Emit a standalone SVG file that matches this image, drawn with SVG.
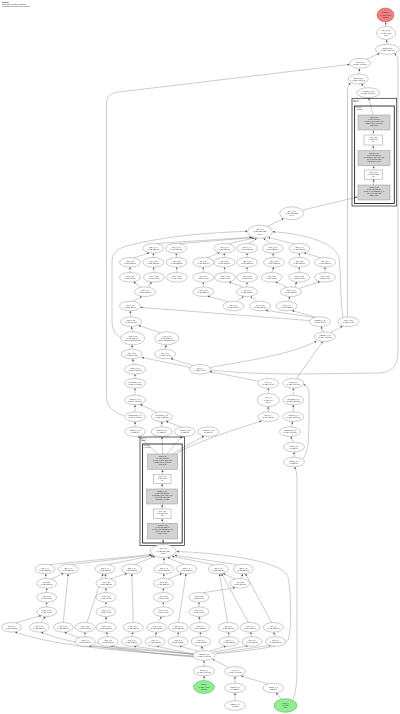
<svg xmlns="http://www.w3.org/2000/svg" width="400" height="714" viewBox="0 0 400 714">
<defs>
<marker id="ah" viewBox="0 0 10 10" refX="10" refY="5" markerWidth="2.2" markerHeight="2.2" orient="auto" markerUnits="userSpaceOnUse"><path d="M0,0 L10,5 L0,10 z" fill="#555"/></marker>
<style>
.node ellipse{fill:#fff;stroke:#8a8a8a;stroke-width:.45}
.node.red ellipse{fill:#f08080;stroke:#b04040}
.node.green ellipse{fill:#90ee90;stroke:#4a9a4a}
text{font-family:"Liberation Sans",Arial,sans-serif;font-size:1.75px;text-anchor:middle;fill:#111}
.gbox{fill:#d3d3d3;stroke:#8a8a8a;stroke-width:.45}
.wbox{fill:#fff;stroke:#8a8a8a;stroke-width:.45}
.gbox+text,.box text{font-size:1.6px}
.clo{fill:none;stroke:#222;stroke-width:.7}
.cli{fill:none;stroke:#222;stroke-width:.9}
.cl{text-anchor:start;font-size:1.5px}
#edges path{fill:none;stroke:#8f8f8f;stroke-width:.45;marker-end:url(#ah)}
.title{text-anchor:start;font-size:2.2px;font-weight:bold}
.sub{text-anchor:start;font-size:1.5px}
.box text{font-size:1.55px}
</style>
</defs>
<rect width="400" height="714" fill="#fff"/>
<g id="title">
<text class="title" x="2" y="3.2">layout</text>
<text class="sub" x="2" y="5.3">Output graph for model: transformer</text>
<text class="sub" x="2" y="7.2">Hierarchical view (rankdir=BT, compound)</text>
</g>

<g id="edges">
<path d="M386,26.5 L385.6,22.3"/>
<path d="M387.2,44.3 L386.3,39.8"/>
<path d="M366,59.4 L379.5,53.6"/>
<path d="M358.6,74 L359.6,68.6"/>
<path d="M366,87.8 L361.2,83.8"/>
<path d="M373,115 L368.8,98"/>
<path d="M373,135 L373.5,130.4"/>
<path d="M373.5,150.7 L373.3,145.4"/>
<path d="M373.5,170 L373.8,166.1"/>
<path d="M373.5,185 L373.5,179.4"/>
<path d="M303,210 L357.6,197"/>
<path d="M267,226.5 L283.6,218.6"/>
<path d="M123.5,415.5 C110,411 106.5,405 106.5,395 L106.5,104 C106.5,96 111,93 119,92 L349.6,64.4"/>
<path d="M211,370 C235,372.5 260,374 300,374 L380,373 C393,372 398,365 398,350 L398,62 C398,57.5 396.5,55 394.3,53.6"/>
<path d="M347.5,316.9 L347.5,90 C347.5,86.5 348.6,84.6 350.6,83.3"/>
<path d="M343,317 C340,300 341,272 339,258 C336,242 300,233 272.6,231.8"/>
<path d="M120.8,337 C114,334 112,328 112,320 L112,262 C112,253 117,249 125,246.5 C160,237 200,233 247.6,231.2"/>
<path d="M156,243.6 L251.5,237.2"/>
<path d="M179,243.6 L252.6,237.7"/>
<path d="M228,243.7 L254.5,238"/>
<path d="M249,243.6 L256.8,238.2"/>
<path d="M270.5,243.6 L263.5,238.2"/>
<path d="M295,244 L268.2,237.5"/>
<path d="M134,257.8 L149.4,252.8"/>
<path d="M153.3,257.5 L153.3,253.2"/>
<path d="M176.6,257.5 L176.1,253.2"/>
<path d="M207,257.8 L219.6,252.8"/>
<path d="M224.3,257.5 L224.3,253.2"/>
<path d="M247,257.5 L247,253.2"/>
<path d="M273.8,257.5 L273,253.2"/>
<path d="M299.3,257.5 L299.3,253.2"/>
<path d="M321,257.8 L304,252.8"/>
<path d="M130,272.5 L130,267.2"/>
<path d="M154,272.5 L153.4,267.2"/>
<path d="M176.7,272.5 L176.7,267.2"/>
<path d="M203.3,272.5 L203.3,267.2"/>
<path d="M225,272.5 L224.4,267.2"/>
<path d="M247,272.5 L247,267.2"/>
<path d="M271.8,272.5 L273.8,267.2"/>
<path d="M299.3,272.5 L299.3,267.2"/>
<path d="M325,272.5 L325,267.2"/>
<path d="M141,287.2 L133.6,281.8"/>
<path d="M148.5,287.2 L151.5,281.9"/>
<path d="M203.3,286.9 L203.3,282.2"/>
<path d="M243,287.2 L229,281.8"/>
<path d="M247,286.9 L247,282.2"/>
<path d="M287,287.2 L275.5,281.8"/>
<path d="M295,287.2 L296.6,281.9"/>
<path d="M299.5,288.5 L320,281.6"/>
<path d="M133,301.3 L142,296.4"/>
<path d="M228,301.5 L207.5,296.2"/>
<path d="M237,301.4 L243.5,296.4"/>
<path d="M257,301.3 L250.5,296.4"/>
<path d="M288,301.2 L290,296.5"/>
<path d="M130.8,316.9 L130.2,310.9"/>
<path d="M314,317.4 L265.5,310.4"/>
<path d="M316,317.2 L292,310.6"/>
<path d="M309.8,320.6 L140.4,307.4"/>
<path d="M323.5,332 L321,326.6"/>
<path d="M331,332.2 L342.5,326.3"/>
<path d="M210,367.5 C240,362 290,355 316.5,341.2"/>
<path d="M132.5,331.8 L131.3,326.6"/>
<path d="M160,332.4 L138.6,325.6"/>
<path d="M131.9,349.2 L132.4,344.9"/>
<path d="M165,349.2 L166.4,344.9"/>
<path d="M134,364.5 L132.6,358.9"/>
<path d="M193,365.5 L170.6,358.5"/>
<path d="M190,367.4 L141.6,357.4"/>
<path d="M135,378.5 L135,374.2"/>
<path d="M135,395.2 L135,388.2"/>
<path d="M135,411.9 L135,404.9"/>
<path d="M157,412.3 L140.2,404.4"/>
<path d="M135,426.9 L135,421.6"/>
<path d="M161.7,426.9 L161.7,421.6"/>
<path d="M181.5,427.1 L166,421.2"/>
<path d="M158,454 L138,436.3"/>
<path d="M162.7,454 L161.9,436.6"/>
<path d="M167,454 L182,436.3"/>
<path d="M172,454 L204,436"/>
<path d="M175.5,454 C200,440 240,428 261.5,421"/>
<path d="M258.5,381.2 L209.6,371.6"/>
<path d="M296.5,378.7 L322.6,341.5"/>
<path d="M268.3,393.5 L268.3,388.2"/>
<path d="M293.3,395.2 L293.3,388.2"/>
<path d="M268.3,411.9 L268.3,406.6"/>
<path d="M293.3,411.9 L293.3,404.9"/>
<path d="M291,426.9 L292.7,421.6"/>
<path d="M293.5,442.2 L290.8,436.6"/>
<path d="M294,457.2 L294,451.9"/>
<path d="M303,459 C308,452 309,440 309,420 L309,395 C309,389 307,386 303.5,384.6"/>
<path d="M293,699.3 C296.5,690 297,680 297,665 L297,480 C297,472 295.6,469 294.6,466.9"/>
<path d="M162.3,474.3 L162.7,469.8"/>
<path d="M162.3,489 L162.2,483.8"/>
<path d="M162.3,509 L162.2,504.5"/>
<path d="M162.3,523.3 L162.2,518.8"/>
<path d="M163.3,544.5 L163,539.5"/>
<path d="M50,564.5 L151,554.6"/>
<path d="M72,564.4 L152,555.2"/>
<path d="M108,564.4 L153.4,555.7"/>
<path d="M135,564.3 L155,556.2"/>
<path d="M164,564.2 L163.8,557.8"/>
<path d="M184,564.3 L167.5,557.5"/>
<path d="M213,564.6 L172,556.2"/>
<path d="M237,564.6 L174.5,555.3"/>
<path d="M46.4,578.5 L45.3,573.9"/>
<path d="M51,579 L63.5,573.4"/>
<path d="M106,578.5 L105.2,573.9"/>
<path d="M110,579 L127,573.6"/>
<path d="M163.4,578.5 L163.9,573.9"/>
<path d="M168,578.8 L182,573.5"/>
<path d="M235,579 L223,573.5"/>
<path d="M241.3,578.5 L242.6,573.9"/>
<path d="M46.7,592.5 L46.7,588.2"/>
<path d="M106,592.5 L106,588.2"/>
<path d="M163.3,592.5 L163.3,588.2"/>
<path d="M203,592.8 L235.4,587.6"/>
<path d="M46.7,606.9 L46.7,602.2"/>
<path d="M106,606.9 L106,602.2"/>
<path d="M163.3,606.9 L163.3,602.2"/>
<path d="M199,606.9 L199,602.2"/>
<path d="M16,622.8 L41.5,615.5"/>
<path d="M40.5,622.5 L45.4,616.6"/>
<path d="M63.2,622.5 L68.2,573.9"/>
<path d="M87,622.6 L103,573.9"/>
<path d="M106,622.5 L106,616.6"/>
<path d="M133.3,622.5 L131.8,573.9"/>
<path d="M157.5,622.5 L161.6,616.6"/>
<path d="M178.5,622.5 L186,573.9"/>
<path d="M200,622.5 L199.2,616.6"/>
<path d="M227.5,622.5 L219.5,573.9"/>
<path d="M248.5,622.6 L221.5,573.7"/>
<path d="M271.5,622.6 L245.5,573.7"/>
<path d="M85,636.7 L85,632.2"/>
<path d="M108,636.7 L106.3,632.2"/>
<path d="M131.5,636.7 L133,632.2"/>
<path d="M155,636.7 L156.5,632.2"/>
<path d="M178,636.7 L178.3,632.2"/>
<path d="M201,636.7 L200.2,632.2"/>
<path d="M229,636.7 L228.4,632.2"/>
<path d="M252,636.7 L250.3,632.2"/>
<path d="M275.5,636.7 L273.6,632.2"/>
<path d="M194,654 L89,646.2"/>
<path d="M195,654.4 L111,646.2"/>
<path d="M196,654.8 L134,646.3"/>
<path d="M197,655 L156.5,646.3"/>
<path d="M199,651.5 L179.5,646.1"/>
<path d="M203.6,650.7 L201.3,646.3"/>
<path d="M210,651 L226,646"/>
<path d="M213,652 L248,645.8"/>
<path d="M215,653.2 L271,645.3"/>
<path d="M193.5,656 C140,652 60,648 15,632.1"/>
<path d="M194,656.5 C150,653 80,648 41,632.1"/>
<path d="M195,657 C155,654 100,648 64.5,632.1"/>
<path d="M216,654 C250,650 280,648 288,640 C292,630 291,590 288,577 C284,561 220,553 176.6,551.5"/>
<path d="M204,666.2 L204,660.4"/>
<path d="M229,667.5 L212.6,659.4"/>
<path d="M204,680.5 L204,675.9"/>
<path d="M235,683.2 L235,676.4"/>
<path d="M268,684 L241,675.9"/>
<path d="M235,700.7 L235,692.9"/>
<path d="M281.5,699.3 L276,692.7"/>
</g>

<g id="R0" class="node red"><ellipse cx="385.5" cy="15" rx="8.5" ry="7"/><text x="385.5" y="13.4">output_0</text><text x="385.5" y="15.6">[1, 128, 4096]</text><text x="385.5" y="17.8">float16</text></g>
<g id="T1" class="node"><ellipse cx="386" cy="33" rx="9.5" ry="6.5"/><text x="386" y="31.4">mul_1_396</text><text x="386" y="33.6">[1, 128, 4096]</text><text x="386" y="35.8">f16 1</text></g>
<g id="T2" class="node"><ellipse cx="387.3" cy="49.3" rx="12" ry="5"/><text x="387.3" y="48.8">add_35_247</text><text x="387.3" y="51">[1, 128, 4096] f16</text></g>
<g id="T3" class="node"><ellipse cx="360" cy="63.3" rx="10.5" ry="5"/><text x="360" y="62.8">view_1_58</text><text x="360" y="65">[1, 128, 4096] f16</text></g>
<g id="T4" class="node"><ellipse cx="358.3" cy="79" rx="10" ry="5"/><text x="358.3" y="78.5">add_35_246</text><text x="358.3" y="80.7">[1, 128, 4096] f16</text></g>
<g id="T5" class="node"><ellipse cx="368.3" cy="92.7" rx="11.5" ry="5"/><text x="368.3" y="92.2">dropout_1_57</text><text x="368.3" y="94.4">[1, 128, 4096] f16</text></g>

<g id="cluster_layer_31">
<rect class="clo" x="352" y="98.3" width="44.7" height="107.7"/>
<text class="cl" x="353.2" y="100.6">layer_31</text>
<text class="cl" x="353.2" y="102.3">(Block)</text>
<rect class="cli" x="354.6" y="106" width="39.7" height="97.5"/>
<text class="cl" x="355.8" y="108.4">self_attn</text>
<text class="cl" x="355.8" y="110.1">(Attention)</text>
<g id="attn_linear_3" class="box"><rect class="gbox" x="358" y="115" width="32" height="15"/><text x="374" y="117.8">linear_3_56</text><text x="374" y="119.8">[1, 128, 4096] f16</text><text x="374" y="121.8">in: view_1_55 [1, 128, 4096]</text><text x="374" y="123.8">weight: [4096, 4096] f16</text><text x="374" y="125.8">bias: None</text></g>
<g id="attn_view_1" class="box"><rect class="wbox" x="364" y="135" width="18.5" height="10"/><text x="373.2" y="137.9">view_1_55</text><text x="373.2" y="139.9">[1, 128, 4096]</text><text x="373.2" y="141.9">f16</text></g>
<g id="attn_matmul_1" class="box"><rect class="gbox" x="358" y="150.7" width="32" height="15"/><text x="374" y="153.5">matmul_1_54</text><text x="374" y="155.5">[1, 32, 128, 128] f16</text><text x="374" y="157.5">in: softmax_0_53, view_0_52</text><text x="374" y="159.5">out: [1, 32, 128, 128]</text><text x="374" y="161.5">transpose_b: False</text></g>
<g id="attn_view_0" class="box"><rect class="wbox" x="364.5" y="170" width="17.8" height="9.2"/><text x="373.4" y="172.6">view_0_52</text><text x="373.4" y="174.6">[1, 32, 128, 128]</text><text x="373.4" y="176.6">f16</text></g>
<g id="attn_matmul_0" class="box"><rect class="gbox" x="358" y="185" width="32" height="15"/><text x="374" y="187.8">matmul_0_50</text><text x="374" y="189.8">[1, 32, 128, 128] f16</text><text x="374" y="191.8">in: add_0_48, transpose_0_49</text><text x="374" y="193.8">out: [1, 32, 128, 128]</text><text x="374" y="195.8">scale: 0.0884</text></g>
</g>

<g id="M1" class="node"><ellipse cx="291.7" cy="213.3" rx="12" ry="6.5"/><text x="291.7" y="211.7">mul_1_48</text><text x="291.7" y="213.9">[1, 32, 128, 128]</text><text x="291.7" y="216.1">f16 1</text></g>
<g id="M2" class="node"><ellipse cx="260" cy="231.7" rx="12.5" ry="6.5"/><text x="260" y="230.1">cat_0_47</text><text x="260" y="232.3">[1, 32, 128, 128]</text><text x="260" y="234.5">dim 1</text></g>

<g id="A1" class="node"><ellipse cx="153.3" cy="248.3" rx="10.5" ry="4.8"/><text x="153.3" y="247.8">add_0_41</text><text x="153.3" y="250">[1, 32, 128] f16</text></g>
<g id="A2" class="node"><ellipse cx="176" cy="248.3" rx="10.5" ry="4.8"/><text x="176" y="247.8">add_0_42</text><text x="176" y="250">[1, 32, 128] f16</text></g>
<g id="A3" class="node"><ellipse cx="224.3" cy="248.3" rx="10.5" ry="4.8"/><text x="224.3" y="247.8">add_0_43</text><text x="224.3" y="250">[1, 32, 128] f16</text></g>
<g id="A4" class="node"><ellipse cx="247" cy="248.3" rx="10.5" ry="4.8"/><text x="247" y="247.8">add_0_44</text><text x="247" y="250">[1, 32, 128] f16</text></g>
<g id="A5" class="node"><ellipse cx="272.7" cy="248.3" rx="10.5" ry="4.8"/><text x="272.7" y="247.8">add_0_45</text><text x="272.7" y="250">[1, 32, 128] f16</text></g>
<g id="A6" class="node"><ellipse cx="299.3" cy="248.3" rx="10.5" ry="4.8"/><text x="299.3" y="247.8">add_0_46</text><text x="299.3" y="250">[1, 32, 128] f16</text></g>

<g id="B1" class="node"><ellipse cx="130" cy="262.3" rx="10.5" ry="4.8"/><text x="130" y="261.8">cat_0_31</text><text x="130" y="264">[1, 32, 128] f16</text></g>
<g id="B2" class="node"><ellipse cx="153.3" cy="262.3" rx="10.5" ry="4.8"/><text x="153.3" y="261.8">mul_0_32</text><text x="153.3" y="264">[1, 32, 128] f16</text></g>
<g id="B3" class="node"><ellipse cx="176.7" cy="262.3" rx="10.5" ry="4.8"/><text x="176.7" y="261.8">mul_0_33</text><text x="176.7" y="264">[1, 32, 128] f16</text></g>
<g id="B4" class="node"><ellipse cx="203.3" cy="262.3" rx="10.5" ry="4.8"/><text x="203.3" y="261.8">cat_0_34</text><text x="203.3" y="264">[1, 32, 128] f16</text></g>
<g id="B5" class="node"><ellipse cx="224.3" cy="262.3" rx="10.5" ry="4.8"/><text x="224.3" y="261.8">mul_0_35</text><text x="224.3" y="264">[1, 32, 128] f16</text></g>
<g id="B6" class="node"><ellipse cx="247" cy="262.3" rx="10.5" ry="4.8"/><text x="247" y="261.8">mul_0_36</text><text x="247" y="264">[1, 32, 128] f16</text></g>
<g id="B7" class="node"><ellipse cx="274" cy="262.3" rx="10.5" ry="4.8"/><text x="274" y="261.8">mul_0_37</text><text x="274" y="264">[1, 32, 128] f16</text></g>
<g id="B8" class="node"><ellipse cx="299.3" cy="262.3" rx="10.5" ry="4.8"/><text x="299.3" y="261.8">cat_0_38</text><text x="299.3" y="264">[1, 32, 128] f16</text></g>
<g id="B9" class="node"><ellipse cx="325" cy="262.3" rx="10.5" ry="4.8"/><text x="325" y="261.8">mul_0_39</text><text x="325" y="264">[1, 32, 128] f16</text></g>

<g id="C1" class="node"><ellipse cx="130" cy="277.3" rx="10.5" ry="4.8"/><text x="130" y="276.8">neg_0_21</text><text x="130" y="279">[1, 32, 64] f16</text></g>
<g id="C2" class="node"><ellipse cx="154" cy="277.3" rx="10.5" ry="4.8"/><text x="154" y="276.8">slice_0_22</text><text x="154" y="279">[1, 32, 64] f16</text></g>
<g id="C3" class="node"><ellipse cx="176.7" cy="277.3" rx="10.5" ry="4.8"/><text x="176.7" y="276.8">slice_0_23</text><text x="176.7" y="279">[1, 32, 64] f16</text></g>
<g id="C4" class="node"><ellipse cx="203.3" cy="277.3" rx="10.5" ry="4.8"/><text x="203.3" y="276.8">neg_0_24</text><text x="203.3" y="279">[1, 32, 64] f16</text></g>
<g id="C5" class="node"><ellipse cx="225" cy="277.3" rx="10.5" ry="4.8"/><text x="225" y="276.8">slice_0_25</text><text x="225" y="279">[1, 32, 64] f16</text></g>
<g id="C6" class="node"><ellipse cx="247" cy="277.3" rx="10.5" ry="4.8"/><text x="247" y="276.8">slice_0_26</text><text x="247" y="279">[1, 32, 64] f16</text></g>
<g id="C7" class="node"><ellipse cx="271.7" cy="277.3" rx="10.5" ry="4.8"/><text x="271.7" y="276.8">neg_0_27</text><text x="271.7" y="279">[1, 32, 64] f16</text></g>
<g id="C8" class="node"><ellipse cx="299.3" cy="277.3" rx="10.5" ry="4.8"/><text x="299.3" y="276.8">slice_0_28</text><text x="299.3" y="279">[1, 32, 64] f16</text></g>
<g id="C9" class="node"><ellipse cx="325" cy="277.3" rx="10.5" ry="4.8"/><text x="325" y="276.8">slice_0_29</text><text x="325" y="279">[1, 32, 64] f16</text></g>

<g id="D1" class="node"><ellipse cx="145" cy="291.7" rx="10.5" ry="4.8"/><text x="145" y="291.2">view_0_17</text><text x="145" y="293.4">[1, 32, 128] f16</text></g>
<g id="D2" class="node"><ellipse cx="203.3" cy="291.7" rx="10.5" ry="4.8"/><text x="203.3" y="291.2">view_0_18</text><text x="203.3" y="293.4">[1, 32, 128] f16</text></g>
<g id="D3" class="node"><ellipse cx="247" cy="291.7" rx="10.5" ry="4.8"/><text x="247" y="291.2">view_0_19</text><text x="247" y="293.4">[1, 32, 128] f16</text></g>
<g id="D4" class="node"><ellipse cx="291" cy="291.7" rx="10.5" ry="4.8"/><text x="291" y="291.2">view_0_20</text><text x="291" y="293.4">[1, 32, 128] f16</text></g>

<g id="E1" class="node"><ellipse cx="130" cy="306" rx="10.5" ry="4.8"/><text x="130" y="305.5">add_0_71</text><text x="130" y="307.7">[1, 128, 32] f16</text></g>
<g id="E2" class="node"><ellipse cx="233.3" cy="306" rx="10.5" ry="4.8"/><text x="233.3" y="305.5">add_0_79</text><text x="233.3" y="307.7">[1, 128, 32] f16</text></g>
<g id="E3" class="node"><ellipse cx="260" cy="306" rx="10.5" ry="4.8"/><text x="260" y="305.5">view_1_13</text><text x="260" y="307.7">[1, 128, 32] f16</text></g>
<g id="E4" class="node"><ellipse cx="286.7" cy="306" rx="10.5" ry="4.8"/><text x="286.7" y="305.5">view_1_14</text><text x="286.7" y="307.7">[1, 128, 32] f16</text></g>

<g id="F1" class="node"><ellipse cx="131" cy="321.7" rx="10.5" ry="4.8"/><text x="131" y="321.2">add_0_72</text><text x="131" y="323.4">[1, 128, 64] f16</text></g>
<g id="F2" class="node"><ellipse cx="320" cy="321.7" rx="10.5" ry="4.8"/><text x="320" y="321.2">reshape_0_11</text><text x="320" y="323.4">[1, 128, 64] f16</text></g>
<g id="F3" class="node"><ellipse cx="348.3" cy="321.7" rx="10.5" ry="4.8"/><text x="348.3" y="321.2">view_1_12</text><text x="348.3" y="323.4">[1, 128, 64] f16</text></g>

<g id="P0" class="node"><ellipse cx="325" cy="336.7" rx="10.5" ry="4.8"/><text x="325" y="336.2">reshape_0_10</text><text x="325" y="338.4">[1, 128, 4096] f16</text></g>

<g id="G1" class="node"><ellipse cx="132.7" cy="338.3" rx="12" ry="6.5"/><text x="132.7" y="336.7">view_0_75</text><text x="132.7" y="338.9">[1, 32, 128, 64]</text><text x="132.7" y="341.1">dim 1, [transpose] f16</text></g>
<g id="G2" class="node"><ellipse cx="166.7" cy="338.3" rx="12" ry="6.5"/><text x="166.7" y="336.7">view_0_76</text><text x="166.7" y="338.9">[1, 32, 128, 64]</text><text x="166.7" y="341.1">dim 1, [transpose] f16</text></g>
<g id="H1" class="node"><ellipse cx="131.7" cy="354" rx="10.5" ry="4.8"/><text x="131.7" y="353.5">mul_0_73</text><text x="131.7" y="355.7">[1, 128, 64] f16</text></g>
<g id="H2" class="node"><ellipse cx="165" cy="354" rx="10.5" ry="4.8"/><text x="165" y="353.5">mul_0_74</text><text x="165" y="355.7">[1, 128, 64] f16</text></g>
<g id="I1" class="node"><ellipse cx="135" cy="369.3" rx="10.5" ry="4.8"/><text x="135" y="368.8">linear_0_70</text><text x="135" y="371">[1, 128, 4096] f16</text></g>
<g id="I2" class="node"><ellipse cx="200" cy="369.3" rx="10.5" ry="4.8"/><text x="200" y="368.8">cos_0_9</text><text x="200" y="371">[1, 128, 64] f16</text></g>
<g id="J1" class="node"><ellipse cx="135" cy="383.3" rx="10.5" ry="4.8"/><text x="135" y="382.8">layernorm_0_67</text><text x="135" y="385">[1, 128, 4096] f16</text></g>
<g id="K1" class="node"><ellipse cx="135" cy="400" rx="10.5" ry="4.8"/><text x="135" y="399.5">dropout_0_66</text><text x="135" y="401.7">[1, 128, 4096] f16</text></g>
<g id="L1" class="node"><ellipse cx="135" cy="416.7" rx="10.5" ry="4.8"/><text x="135" y="416.2">embedding_0_64</text><text x="135" y="418.4">[1, 128, 4096] f16</text></g>
<g id="L2" class="node"><ellipse cx="161.7" cy="416.7" rx="10.5" ry="4.8"/><text x="161.7" y="416.2">layernorm_0_65</text><text x="161.7" y="418.4">[1, 128, 4096] f16</text></g>
<g id="MM1" class="node"><ellipse cx="135" cy="431.7" rx="10.5" ry="4.8"/><text x="135" y="431.2">getitem_0_60</text><text x="135" y="433.4">[1, 128] i64</text></g>
<g id="MM2" class="node"><ellipse cx="161.7" cy="431.7" rx="10.5" ry="4.8"/><text x="161.7" y="431.2">getitem_0_61</text><text x="161.7" y="433.4">[1, 128] i64</text></g>
<g id="MM3" class="node"><ellipse cx="185" cy="431.7" rx="10.5" ry="4.8"/><text x="185" y="431.2">getitem_0_62</text><text x="185" y="433.4">[1, 128] i64</text></g>
<g id="MM4" class="node"><ellipse cx="208.3" cy="431.7" rx="10.5" ry="4.8"/><text x="208.3" y="431.2">getitem_0_63</text><text x="208.3" y="433.4">[1, 128] i64</text></g>

<g id="Q1" class="node"><ellipse cx="268.3" cy="383.3" rx="10.5" ry="4.8"/><text x="268.3" y="382.8">sin_0_8</text><text x="268.3" y="385">[1, 128, 64] f16</text></g>
<g id="Q2" class="node"><ellipse cx="293.3" cy="383.3" rx="10.5" ry="4.8"/><text x="293.3" y="382.8">linear_1_7</text><text x="293.3" y="385">[1, 128, 4096] f16</text></g>
<g id="R1" class="node"><ellipse cx="268.3" cy="400" rx="11" ry="6.5"/><text x="268.3" y="398.4">cat_0_6</text><text x="268.3" y="400.6">[1, 128, 64]</text><text x="268.3" y="402.8">dim -1</text></g>
<g id="R2" class="node"><ellipse cx="293.3" cy="400" rx="10.5" ry="4.8"/><text x="293.3" y="399.5">layernorm_1_5</text><text x="293.3" y="401.7">[1, 128, 4096] f16</text></g>
<g id="S1" class="node"><ellipse cx="268.3" cy="416.7" rx="10.5" ry="4.8"/><text x="268.3" y="416.2">outer_0_4</text><text x="268.3" y="418.4">[1, 128, 32] f16</text></g>
<g id="S2" class="node"><ellipse cx="293.3" cy="416.7" rx="10.5" ry="4.8"/><text x="293.3" y="416.2">dropout_1_3</text><text x="293.3" y="418.4">[1, 128, 4096] f16</text></g>
<g id="T2b" class="node"><ellipse cx="290" cy="431.7" rx="10.5" ry="4.8"/><text x="290" y="431.2">embedding_1_2</text><text x="290" y="433.4">[1, 128, 4096] f16</text></g>
<g id="U" class="node"><ellipse cx="294" cy="447" rx="10.5" ry="4.8"/><text x="294" y="446.5">getitem_1_1</text><text x="294" y="448.7">[1, 128] i64</text></g>
<g id="V" class="node"><ellipse cx="294" cy="462" rx="10.5" ry="4.8"/><text x="294" y="461.5">getitem_1_0</text><text x="294" y="463.7">[1, 128] i64</text></g>

<g id="cluster_layer_0">
<rect class="clo" x="140" y="437" width="44.5" height="108.5"/>
<text class="cl" x="141.2" y="439.3">layer_0</text>
<text class="cl" x="141.2" y="441">(Block)</text>
<rect class="cli" x="142.6" y="444" width="39.6" height="99"/>
<text class="cl" x="143.8" y="446.4">self_attn</text>
<text class="cl" x="143.8" y="448.1">(Attention)</text>
<g id="l0_linear_3" class="box"><rect class="gbox" x="147.7" y="454" width="30" height="15.3"/><text x="162.7" y="456.8">linear_3_59</text><text x="162.7" y="458.8">[1, 128, 4096] f16</text><text x="162.7" y="460.8">in: view_1_58 [1, 128, 4096]</text><text x="162.7" y="462.8">weight: [4096, 4096] f16</text><text x="162.7" y="464.8">bias: None</text></g>
<g id="l0_view_1" class="box"><rect class="wbox" x="153.3" y="474.3" width="17.7" height="9"/><text x="162.2" y="476.9">view_1_58</text><text x="162.2" y="478.9">[1, 128, 4096]</text><text x="162.2" y="480.9">f16</text></g>
<g id="l0_matmul_1" class="box"><rect class="gbox" x="146.7" y="489" width="31" height="15"/><text x="162.2" y="491.8">matmul_1_57</text><text x="162.2" y="493.8">[1, 32, 128, 128] f16</text><text x="162.2" y="495.8">in: softmax_0_56, view_0_55</text><text x="162.2" y="497.8">out: [1, 32, 128, 128]</text><text x="162.2" y="499.8">transpose_b: False</text></g>
<g id="l0_view_0" class="box"><rect class="wbox" x="153.3" y="509" width="17.7" height="9.3"/><text x="162.2" y="511.6">view_0_55</text><text x="162.2" y="513.6">[1, 32, 128, 128]</text><text x="162.2" y="515.6">f16</text></g>
<g id="l0_matmul_0" class="box"><rect class="gbox" x="147.7" y="523.3" width="30" height="15.7"/><text x="162.7" y="526.2">matmul_0_53</text><text x="162.7" y="528.2">[1, 32, 128, 128] f16</text><text x="162.7" y="530.2">in: add_0_51, transpose_0_52</text><text x="162.7" y="532.2">out: [1, 32, 128, 128]</text><text x="162.7" y="534.2">scale: 0.0884</text></g>
</g>

<g id="N0" class="node"><ellipse cx="163.3" cy="551" rx="13" ry="6.5"/><text x="163.3" y="549.4">cat_0_50</text><text x="163.3" y="551.6">[1, 32, 128, 128]</text><text x="163.3" y="553.8">dim 1</text></g>

<g id="W1" class="node"><ellipse cx="45" cy="569" rx="10" ry="4.8"/><text x="45" y="568.5">add_0_44</text><text x="45" y="570.7">[1, 32, 128] f16</text></g>
<g id="W2" class="node"><ellipse cx="68.3" cy="569" rx="10" ry="4.8"/><text x="68.3" y="568.5">add_0_45</text><text x="68.3" y="570.7">[1, 32, 128] f16</text></g>
<g id="W3" class="node"><ellipse cx="105" cy="569" rx="10" ry="4.8"/><text x="105" y="568.5">add_0_46</text><text x="105" y="570.7">[1, 32, 128] f16</text></g>
<g id="W4" class="node"><ellipse cx="131.7" cy="569" rx="10" ry="4.8"/><text x="131.7" y="568.5">add_0_47</text><text x="131.7" y="570.7">[1, 32, 128] f16</text></g>
<g id="W5" class="node"><ellipse cx="164" cy="569" rx="10" ry="4.8"/><text x="164" y="568.5">add_0_48</text><text x="164" y="570.7">[1, 32, 128] f16</text></g>
<g id="W6" class="node"><ellipse cx="186.7" cy="569" rx="10" ry="4.8"/><text x="186.7" y="568.5">add_0_49</text><text x="186.7" y="570.7">[1, 32, 128] f16</text></g>
<g id="W7" class="node"><ellipse cx="218.3" cy="569" rx="10" ry="4.8"/><text x="218.3" y="568.5">add_0_42</text><text x="218.3" y="570.7">[1, 32, 128] f16</text></g>
<g id="W8" class="node"><ellipse cx="243.3" cy="569" rx="10" ry="4.8"/><text x="243.3" y="568.5">add_0_43</text><text x="243.3" y="570.7">[1, 32, 128] f16</text></g>

<g id="X1" class="node"><ellipse cx="46.7" cy="583.3" rx="10" ry="4.8"/><text x="46.7" y="582.8">cat_0_34</text><text x="46.7" y="585">[1, 32, 128] f16</text></g>
<g id="X2" class="node"><ellipse cx="106" cy="583.3" rx="10" ry="4.8"/><text x="106" y="582.8">cat_0_35</text><text x="106" y="585">[1, 32, 128] f16</text></g>
<g id="X3" class="node"><ellipse cx="163.3" cy="583.3" rx="10" ry="4.8"/><text x="163.3" y="582.8">cat_0_36</text><text x="163.3" y="585">[1, 32, 128] f16</text></g>
<g id="X4" class="node"><ellipse cx="240" cy="583.3" rx="10" ry="4.8"/><text x="240" y="582.8">cat_0_33</text><text x="240" y="585">[1, 32, 128] f16</text></g>

<g id="Y1" class="node"><ellipse cx="46.7" cy="597.3" rx="10" ry="4.8"/><text x="46.7" y="596.8">neg_0_26</text><text x="46.7" y="599">[1, 32, 64] f16</text></g>
<g id="Y2" class="node"><ellipse cx="106" cy="597.3" rx="10" ry="4.8"/><text x="106" y="596.8">neg_0_27</text><text x="106" y="599">[1, 32, 64] f16</text></g>
<g id="Y3" class="node"><ellipse cx="163.3" cy="597.3" rx="10" ry="4.8"/><text x="163.3" y="596.8">neg_0_28</text><text x="163.3" y="599">[1, 32, 64] f16</text></g>
<g id="Y4" class="node"><ellipse cx="199" cy="597.3" rx="10" ry="4.8"/><text x="199" y="596.8">neg_0_25</text><text x="199" y="599">[1, 32, 64] f16</text></g>

<g id="Z1" class="node"><ellipse cx="46.7" cy="611.7" rx="10" ry="4.8"/><text x="46.7" y="611.2">slice_0_18</text><text x="46.7" y="613.4">[1, 32, 64] f16</text></g>
<g id="Z2" class="node"><ellipse cx="106" cy="611.7" rx="10" ry="4.8"/><text x="106" y="611.2">slice_0_19</text><text x="106" y="613.4">[1, 32, 64] f16</text></g>
<g id="Z3" class="node"><ellipse cx="163.3" cy="611.7" rx="10" ry="4.8"/><text x="163.3" y="611.2">slice_0_20</text><text x="163.3" y="613.4">[1, 32, 64] f16</text></g>
<g id="Z4" class="node"><ellipse cx="199" cy="611.7" rx="10" ry="4.8"/><text x="199" y="611.2">slice_0_17</text><text x="199" y="613.4">[1, 32, 64] f16</text></g>

<g id="AA1" class="node"><ellipse cx="11.7" cy="627.3" rx="10" ry="4.8"/><text x="11.7" y="626.8">view_0_9</text><text x="11.7" y="629">[1, 32, 128] f16</text></g>
<g id="AA2" class="node"><ellipse cx="39.3" cy="627.3" rx="10" ry="4.8"/><text x="39.3" y="626.8">mul_0_10</text><text x="39.3" y="629">[1, 32, 128] f16</text></g>
<g id="AA3" class="node"><ellipse cx="63.3" cy="627.3" rx="10" ry="4.8"/><text x="63.3" y="626.8">mul_0_11</text><text x="63.3" y="629">[1, 32, 128] f16</text></g>
<g id="AA4" class="node"><ellipse cx="85" cy="627.3" rx="10" ry="4.8"/><text x="85" y="626.8">mul_0_12</text><text x="85" y="629">[1, 32, 128] f16</text></g>
<g id="AA5" class="node"><ellipse cx="106" cy="627.3" rx="10" ry="4.8"/><text x="106" y="626.8">view_0_13</text><text x="106" y="629">[1, 32, 128] f16</text></g>
<g id="AA6" class="node"><ellipse cx="133.3" cy="627.3" rx="10" ry="4.8"/><text x="133.3" y="626.8">mul_0_14</text><text x="133.3" y="629">[1, 32, 128] f16</text></g>
<g id="AA7" class="node"><ellipse cx="156.7" cy="627.3" rx="10" ry="4.8"/><text x="156.7" y="626.8">view_0_15</text><text x="156.7" y="629">[1, 32, 128] f16</text></g>
<g id="AA8" class="node"><ellipse cx="178.3" cy="627.3" rx="10" ry="4.8"/><text x="178.3" y="626.8">mul_0_16</text><text x="178.3" y="629">[1, 32, 128] f16</text></g>
<g id="AA9" class="node"><ellipse cx="200" cy="627.3" rx="10" ry="4.8"/><text x="200" y="626.8">view_0_8</text><text x="200" y="629">[1, 32, 128] f16</text></g>
<g id="AA10" class="node"><ellipse cx="228.3" cy="627.3" rx="10" ry="4.8"/><text x="228.3" y="626.8">mul_0_5</text><text x="228.3" y="629">[1, 32, 128] f16</text></g>
<g id="AA11" class="node"><ellipse cx="250" cy="627.3" rx="10" ry="4.8"/><text x="250" y="626.8">mul_0_6</text><text x="250" y="629">[1, 32, 128] f16</text></g>
<g id="AA12" class="node"><ellipse cx="273.3" cy="627.3" rx="10" ry="4.8"/><text x="273.3" y="626.8">mul_0_7</text><text x="273.3" y="629">[1, 32, 128] f16</text></g>

<g id="BB1" class="node"><ellipse cx="85" cy="641.5" rx="10" ry="4.8"/><text x="85" y="641">view_1_1</text><text x="85" y="643.2">[1, 128, 32] f16</text></g>
<g id="BB2" class="node"><ellipse cx="108" cy="641.5" rx="10" ry="4.8"/><text x="108" y="641">view_1_2</text><text x="108" y="643.2">[1, 128, 32] f16</text></g>
<g id="BB3" class="node"><ellipse cx="131.5" cy="641.5" rx="10" ry="4.8"/><text x="131.5" y="641">view_1_3</text><text x="131.5" y="643.2">[1, 128, 32] f16</text></g>
<g id="BB4" class="node"><ellipse cx="155" cy="641.5" rx="10" ry="4.8"/><text x="155" y="641">view_1_4</text><text x="155" y="643.2">[1, 128, 32] f16</text></g>
<g id="BB5" class="node"><ellipse cx="178" cy="641.5" rx="10" ry="4.8"/><text x="178" y="641">view_1_5</text><text x="178" y="643.2">[1, 128, 32] f16</text></g>
<g id="BB6" class="node"><ellipse cx="201" cy="641.5" rx="10" ry="4.8"/><text x="201" y="641">view_1_6</text><text x="201" y="643.2">[1, 128, 32] f16</text></g>
<g id="BB7" class="node"><ellipse cx="229" cy="641.5" rx="10" ry="4.8"/><text x="229" y="641">view_1_7</text><text x="229" y="643.2">[1, 128, 32] f16</text></g>
<g id="BB8" class="node"><ellipse cx="252" cy="641.5" rx="10" ry="4.8"/><text x="252" y="641">view_1_8</text><text x="252" y="643.2">[1, 128, 32] f16</text></g>
<g id="BB9" class="node"><ellipse cx="275.5" cy="641.5" rx="10" ry="4.8"/><text x="275.5" y="641">view_1_9</text><text x="275.5" y="643.2">[1, 128, 32] f16</text></g>

<g id="CC" class="node"><ellipse cx="204" cy="655.5" rx="11" ry="4.8"/><text x="204" y="655">reshape_0_2</text><text x="204" y="657.2">[1, 128, 4096] f16</text></g>
<g id="DD1" class="node"><ellipse cx="204" cy="671" rx="10.5" ry="4.8"/><text x="204" y="670.5">linear_0_1</text><text x="204" y="672.7">[1, 128, 4096] f16</text></g>
<g id="DD2" class="node"><ellipse cx="235" cy="671.5" rx="10.5" ry="4.8"/><text x="235" y="671">view_1_1</text><text x="235" y="673.2">[1, 128, 4096] f16</text></g>
<g id="G_in1" class="node green"><ellipse cx="204" cy="687" rx="10.5" ry="6.5"/><text x="204" y="685.4">input_0</text><text x="204" y="687.6">[1, 128, 4096]</text><text x="204" y="689.8">float16</text></g>
<g id="EE" class="node"><ellipse cx="235" cy="688" rx="10.5" ry="4.8"/><text x="235" y="687.5">getitem_0_0</text><text x="235" y="689.7">[1, 128] i64</text></g>
<g id="FF" class="node"><ellipse cx="273.3" cy="688" rx="10.5" ry="4.8"/><text x="273.3" y="687.5">arange_0_0</text><text x="273.3" y="689.7">[128] i64</text></g>
<g id="GG" class="node"><ellipse cx="235" cy="705.5" rx="10.5" ry="4.8"/><text x="235" y="705">arange_1_0</text><text x="235" y="707.2">[1, 128]</text></g>
<g id="G_in2" class="node green"><ellipse cx="285.5" cy="705.5" rx="11.5" ry="6.8"/><text x="285.5" y="703.9">input_1</text><text x="285.5" y="706.1">[1, 128]</text><text x="285.5" y="708.3">int64</text></g>
</svg>
